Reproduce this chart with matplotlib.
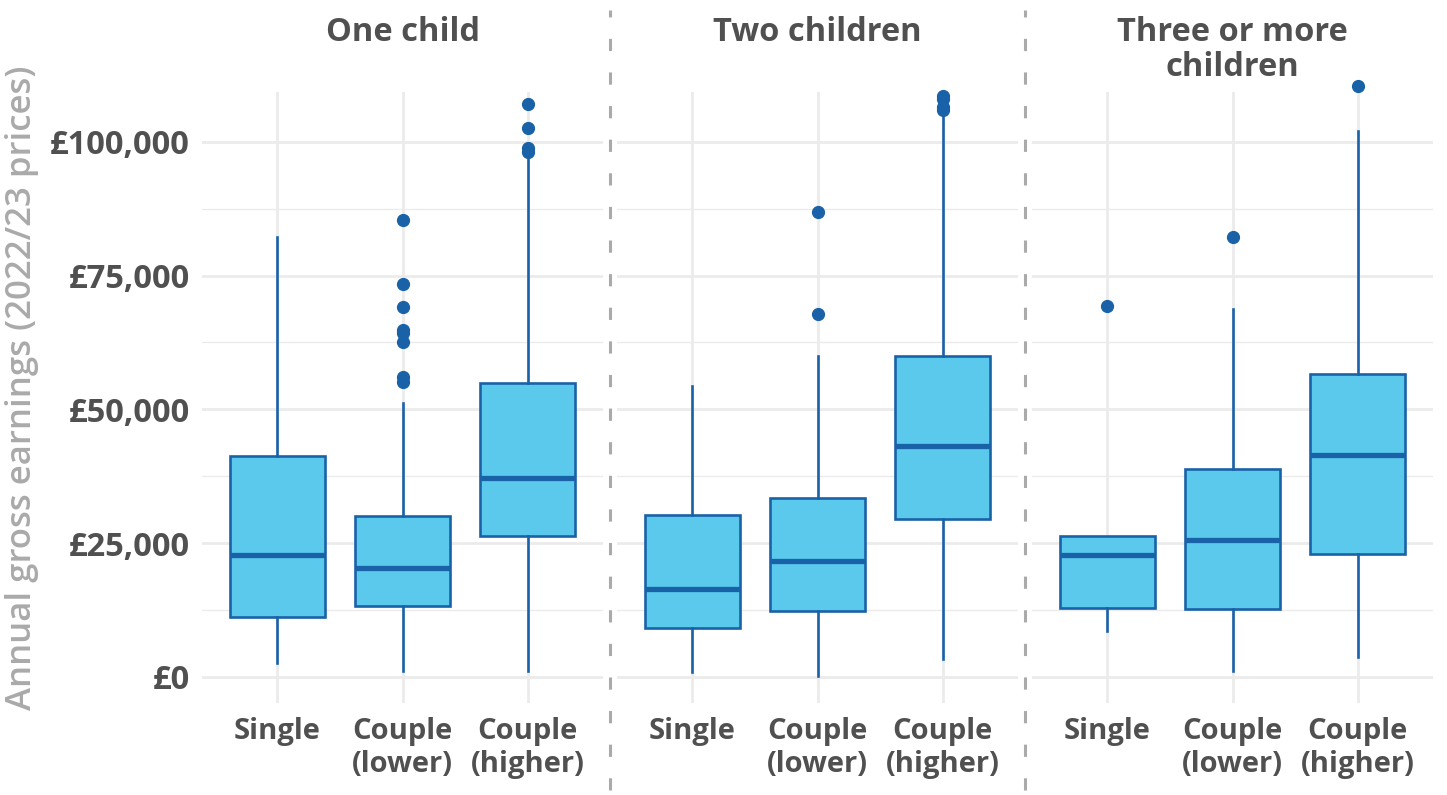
import matplotlib
matplotlib.use("Agg")
import matplotlib.pyplot as plt
from matplotlib.lines import Line2D

plt.rcParams['font.family'] = ['Open Sans', 'DejaVu Sans']

# ---- data (values in £) ----
panels = ["One child", "Two children", "Three or more\nchildren"]
groups = ["Single", "Couple\n(lower)", "Couple\n(higher)"]

whislo = [[2600, 1200, 1200], [1000, 100, 3400], [8500, 1100, 3800]]
q1     = [[11300, 13300, 26400], [9100, 12400, 29500], [12900, 12700, 23000]]
med    = [[22800, 20300, 37200], [16500, 21700, 43200], [22700, 25600, 41500]]
q3     = [[41300, 30000, 55000], [30200, 33500, 60000], [26300, 38800, 56600]]
whishi = [[82200, 51100, 97600], [54300, 60000, 106000], [26300, 68700, 102100]]
fliers = [
    [[], [85400, 73500, 69100, 64800, 64200, 62600, 56000, 55200], [107000, 102500, 98900, 98100]],
    [[], [86800, 67900], [108500, 108000, 106500, 106000]],
    [[69400], [82300], [110500]],
]

yticks = [0, 25000, 50000, 75000, 100000]
ytick_labels = ["£0", "£25,000", "£50,000", "£75,000", "£100,000"]

FILL = "#5BC9EC"
EDGE = "#1A62A8"
TXT = "#505050"
GRID = "#EBEBEB"

W, H = 1447, 795
fig = plt.figure(figsize=(W / 100, H / 100), dpi=100)

lefts = [202, 617, 1032]
pw = 401
top_px, bot_px = 92, 703
axes = []
for p in range(3):
    ax = fig.add_axes([lefts[p] / W, 1 - bot_px / H, pw / W, (bot_px - top_px) / H])
    axes.append(ax)
    stats = []
    for g in range(3):
        stats.append(dict(whislo=whislo[p][g], q1=q1[p][g], med=med[p][g],
                          q3=q3[p][g], whishi=whishi[p][g], fliers=fliers[p][g]))
    ax.bxp(stats, positions=[1, 2, 3], widths=0.76, patch_artist=True,
           showcaps=False,
           boxprops=dict(facecolor=FILL, edgecolor=EDGE, linewidth=1.9),
           medianprops=dict(color=EDGE, linewidth=3.8, solid_capstyle='butt'),
           whiskerprops=dict(color=EDGE, linewidth=1.9),
           flierprops=dict(marker='o', markerfacecolor=EDGE, markeredgecolor=EDGE,
                           markersize=8.5, linestyle='none'),
           zorder=3)
    for art in ax.lines:
        art.set_clip_on(False)
    ax.set_xlim(0.4, 3.6)
    ax.set_ylim(-4860, 109300)
    ax.set_yticks(yticks)
    ax.set_yticks([12500, 37500, 62500, 87500], minor=True)
    ax.set_xticks([1, 2, 3])
    ax.set_xticklabels(groups, fontsize=21, fontweight='bold', color=TXT,
                       linespacing=1.2)
    ax.grid(True, which='major', color=GRID, linewidth=2.0, zorder=0)
    ax.grid(True, which='minor', axis='y', color=GRID, linewidth=1.0, zorder=0)
    ax.set_axisbelow(True)
    for s in ax.spines.values():
        s.set_visible(False)
    ax.tick_params(axis='both', which='both', length=0)
    ax.tick_params(axis='x', pad=10)
    if p == 0:
        ax.set_yticklabels(ytick_labels, fontsize=23.5, fontweight='bold', color=TXT)
        ax.tick_params(axis='y', pad=9)
    else:
        ax.set_yticklabels([])
    cx = (lefts[p] + pw / 2) / W
    fig.text(cx, 1 - 16 / H, panels[p], ha='center', va='top', fontsize=23.5,
             fontweight='bold', color=TXT, linespacing=1.1)

# dashed separators between panels
for xp in [610, 1025]:
    fig.add_artist(Line2D([xp / W, xp / W], [1 - 790 / H, 1 - 10 / H],
                          transform=fig.transFigure, color="#AAAAAA",
                          linewidth=2.2, linestyle=(0, (4, 7))))

fig.text(22 / W, 1 - 388 / H, "Annual gross earnings (2022/23 prices)", rotation=90,
         ha='center', va='center', fontsize=25, fontweight='semibold', color="#AAAAAA")

fig.savefig("out.png", dpi=100)
